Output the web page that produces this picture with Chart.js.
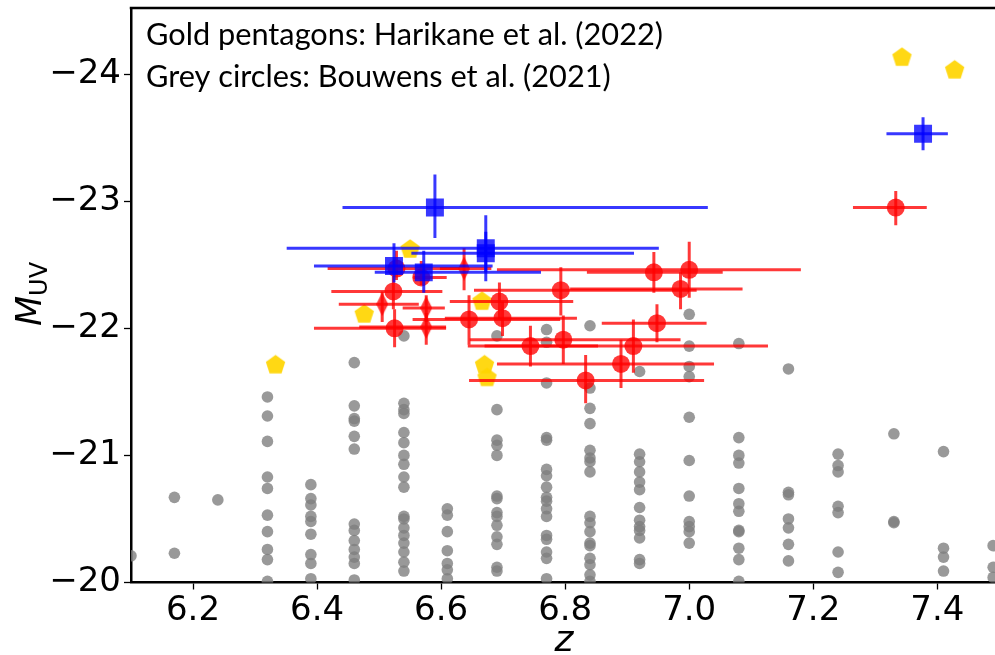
<!DOCTYPE html>
<html>
<head>
<meta charset="utf-8">
<script src="https://cdn.jsdelivr.net/npm/chart.js@4/dist/chart.umd.min.js"></script>
<style>
html,body{margin:0;padding:0;background:#fff;overflow:hidden;}
canvas{display:block;}
</style>
</head>
<body>
<canvas id="c" width="995" height="655"></canvas>
<script>
// ---------------- DATA ----------------
const xTickValues = [6.2, 6.4, 6.6, 6.8, 7.0, 7.2, 7.4];
const yTickValues = [-24, -23, -22, -21, -20];

// Grey circles: Bouwens et al. (2021) -- redshift columns and magnitudes in each column
const bouwensZ = [6.10, 6.17, 6.24, 6.32, 6.39, 6.46, 6.54, 6.61, 6.69, 6.77, 6.84, 6.92, 7.00, 7.08, 7.16, 7.24, 7.33, 7.41, 7.49];
const bouwensM = [
  [-20.21],
  [-20.67, -20.23],
  [-20.65],
  [-21.46, -21.31, -21.11, -20.83, -20.74, -20.53, -20.40, -20.26, -20.18, -20.01],
  [-20.77, -20.66, -20.61, -20.52, -20.48, -20.38, -20.22, -20.15, -20.03],
  [-21.73, -21.39, -21.29, -21.27, -21.15, -21.05, -20.46, -20.41, -20.33, -20.26, -20.20, -20.15, -20.02],
  [-21.94, -21.41, -21.36, -21.33, -21.18, -21.10, -21.00, -20.93, -20.83, -20.75, -20.52, -20.50, -20.43, -20.37, -20.31, -20.24, -20.16, -20.09],
  [-20.58, -20.53, -20.40, -20.25, -20.15, -20.10, -20.03],
  [-21.94, -21.36, -21.12, -21.08, -21.00, -20.68, -20.66, -20.55, -20.52, -20.45, -20.36, -20.30, -20.12, -20.09],
  [-21.99, -21.89, -21.57, -21.14, -21.12, -20.89, -20.84, -20.75, -20.67, -20.64, -20.58, -20.52, -20.37, -20.34, -20.24, -20.19, -20.03],
  [-22.02, -21.53, -21.37, -21.25, -21.04, -20.98, -20.95, -20.87, -20.52, -20.47, -20.40, -20.31, -20.29, -20.19, -20.14, -20.06, -20.01],
  [-21.66, -21.01, -20.95, -20.87, -20.79, -20.73, -20.59, -20.49, -20.44, -20.41, -20.35, -20.18, -20.15],
  [-22.11, -21.86, -21.70, -21.62, -21.30, -20.96, -20.68, -20.48, -20.44, -20.40, -20.31],
  [-21.88, -21.14, -21.00, -20.94, -20.74, -20.62, -20.56, -20.41, -20.40, -20.27, -20.18, -20.01],
  [-21.68, -20.71, -20.69, -20.50, -20.43, -20.30, -20.17],
  [-21.01, -20.92, -20.87, -20.60, -20.55, -20.24, -20.08],
  [-21.17, -20.48, -20.47],
  [-21.03, -20.27, -20.20, -20.09],
  [-20.29, -20.12, -20.04]
];

// Gold pentagons: Harikane et al. (2022)
const harikaneZ = [6.333, 6.476, 6.550, 6.666, 6.670, 6.674, 7.343, 7.428];
const harikaneM = [-21.71, -22.11, -22.62, -22.21, -21.71, -21.61, -24.13, -24.03];

// Red circles with error bars
const redZ    = [6.523, 6.525, 6.645, 6.694, 6.699, 6.744, 6.793, 6.797, 6.833, 6.890, 6.910, 6.943, 6.948, 6.986, 7.000, 7.333, 6.528, 6.568];
const redM    = [-22.29, -22.00, -22.07, -22.21, -22.08, -21.86, -22.30, -21.91, -21.59, -21.72, -21.86, -22.44, -22.04, -22.31, -22.46, -22.95, -22.47, -22.40];
const redZlo  = [6.423, 6.395, 6.554, 6.614, 6.606, 6.670, 6.653, 6.646, 6.645, 6.690, 6.643, 6.835, 6.859, 6.808, 6.690, 7.264, 6.417, 6.555];
const redZhi  = [6.602, 6.608, 6.792, 6.813, 6.819, 6.853, 7.012, 6.986, 7.024, 7.040, 7.127, 7.054, 7.028, 7.086, 7.180, 7.383, 6.630, 6.609];
const redMlo  = [-22.41, -22.15, -22.26, -22.36, -22.21, -22.02, -22.48, -22.10, -21.79, -21.91, -22.07, -22.60, -22.19, -22.44, -22.68, -23.08, -22.61, -22.53];
const redMhi  = [-22.15, -21.85, -21.87, -22.07, -21.94, -21.70, -22.10, -21.72, -21.41, -21.53, -21.65, -22.28, -21.89, -22.15, -22.24, -22.81, -22.38, -22.34];

// Red thin diamonds with error bars
const diaZ   = [6.505, 6.576, 6.576, 6.637];
const diaM   = [-22.19, -22.16, -22.01, -22.47];
const diaZlo = [6.435, 6.538, 6.468, 6.598];
const diaZhi = [6.564, 6.606, 6.608, 6.681];
const diaMlo = [-22.29, -22.26, -22.12, -22.63];
const diaMhi = [-22.05, -22.05, -21.87, -22.30];

// Blue squares with error bars
const blueZ   = [6.590, 6.672, 6.672, 6.524, 6.572, 7.377];
const blueM   = [-22.95, -22.63, -22.59, -22.49, -22.44, -23.53];
const blueZlo = [6.441, 6.351, 6.552, 6.395, 6.493, 7.318];
const blueZhi = [7.030, 6.951, 6.911, 6.683, 6.761, 7.417];
const blueMlo = [-23.21, -22.89, -22.76, -22.67, -22.61, -23.66];
const blueMhi = [-22.71, -22.37, -22.44, -22.36, -22.28, -23.40];

const legendLines = ['Gold pentagons: Harikane et al. (2022)', 'Grey circles: Bouwens et al. (2021)'];

// ---------------- BUILD ----------------
function pts(zs, ms) { return zs.map((z, i) => ({x: z, y: ms[i]})); }
function errs(zlo, zhi, mlo, mhi) { return zlo.map((v, i) => ({xlo: v, xhi: zhi[i], ylo: mlo[i], yhi: mhi[i]})); }

const greyPts = [];
bouwensZ.forEach((z, i) => bouwensM[i].forEach(m => greyPts.push({x: z, y: m})));

function makePentagon(r, color) {
  const s = Math.ceil(2 * r + 2);
  const c = document.createElement('canvas');
  c.width = s; c.height = s;
  const g = c.getContext('2d');
  g.fillStyle = color;
  g.beginPath();
  for (let i = 0; i < 5; i++) {
    const a = -Math.PI / 2 + i * 2 * Math.PI / 5;
    const px = s / 2 + r * Math.cos(a), py = s / 2 + r * Math.sin(a);
    if (i) g.lineTo(px, py); else g.moveTo(px, py);
  }
  g.closePath(); g.fill();
  return c;
}
function makeThinDiamond(w, h, color) {
  const c = document.createElement('canvas');
  c.width = w; c.height = h;
  const g = c.getContext('2d');
  g.fillStyle = color;
  g.beginPath();
  g.moveTo(w / 2, 0); g.lineTo(w, h / 2); g.lineTo(w / 2, h); g.lineTo(0, h / 2);
  g.closePath(); g.fill();
  return c;
}

const RED = 'rgba(255,0,0,0.78)';
const BLUE = 'rgba(0,0,255,0.78)';
const GREY = 'rgba(128,128,128,0.8)';
const GOLD = 'rgba(255,213,0,0.92)';
const TICK_FONT = 34;

const errorBarPlugin = {
  id: 'errbars',
  beforeDatasetDraw(chart, args) {
    const ds = chart.data.datasets[args.index];
    if (!ds.errors) return;
    const {ctx, chartArea} = chart;
    const xs = chart.scales.x, ys = chart.scales.y;
    ctx.save();
    ctx.beginPath();
    ctx.rect(chartArea.left, chartArea.top, chartArea.right - chartArea.left, chartArea.bottom - chartArea.top);
    ctx.clip();
    ctx.strokeStyle = ds.errorColor;
    ctx.lineWidth = 3;
    ctx.lineCap = 'butt';
    ds.data.forEach((p, i) => {
      const e = ds.errors[i];
      const px = xs.getPixelForValue(p.x), py = ys.getPixelForValue(p.y);
      ctx.beginPath();
      ctx.moveTo(xs.getPixelForValue(e.xlo), py);
      ctx.lineTo(xs.getPixelForValue(e.xhi), py);
      ctx.stroke();
      ctx.beginPath();
      ctx.moveTo(px, ys.getPixelForValue(e.ylo));
      ctx.lineTo(px, ys.getPixelForValue(e.yhi));
      ctx.stroke();
    });
    ctx.restore();
  }
};

const decorPlugin = {
  id: 'decor',
  afterDraw(chart) {
    const {ctx, chartArea} = chart;
    ctx.save();
    // top spine
    ctx.strokeStyle = '#000';
    ctx.lineWidth = 2.5;
    ctx.beginPath();
    ctx.moveTo(chartArea.left - 1.25, chartArea.top);
    ctx.lineTo(chartArea.right, chartArea.top);
    ctx.stroke();
    // legend text
    ctx.fillStyle = '#000';
    ctx.textBaseline = 'alphabetic';
    ctx.textAlign = 'left';
    ctx.font = '33px Lato';
    const w = ctx.measureText(legendLines[0]).width;
    const fs = 33 * 517 / w;
    ctx.font = fs.toFixed(2) + 'px Lato';
    ctx.fillText(legendLines[0], 146, 45);
    ctx.fillText(legendLines[1], 146, 87);
    // x label
    ctx.textAlign = 'center';
    ctx.font = 'italic 36px "DejaVu Sans"';
    ctx.fillText('z', 564, 651);
    // y label M_UV rotated
    ctx.translate(41, 0);
    ctx.rotate(-Math.PI / 2);
    ctx.textAlign = 'left';
    ctx.font = 'italic 35px "DejaVu Sans"';
    const mw = ctx.measureText('M').width;
    ctx.font = '24px "DejaVu Sans"';
    const uw = ctx.measureText('UV').width;
    const total = mw + uw;
    const start = -(294 + total / 2);
    ctx.font = 'italic 35px "DejaVu Sans"';
    ctx.fillText('M', start, 0);
    ctx.font = '24px "DejaVu Sans"';
    ctx.fillText('UV', start + mw, 6);
    ctx.restore();
  }
};

new Chart(document.getElementById('c'), {
  type: 'scatter',
  data: {
    datasets: [
      {
        label: 'Blue', data: pts(blueZ, blueM), errors: errs(blueZlo, blueZhi, blueMlo, blueMhi), errorColor: BLUE,
        pointStyle: 'rect', pointRadius: 12.7, pointBackgroundColor: BLUE, pointBorderWidth: 0, order: 0
      },
      {
        label: 'Red', data: pts(redZ, redM), errors: errs(redZlo, redZhi, redMlo, redMhi), errorColor: RED,
        pointStyle: 'circle', pointRadius: 9, pointBackgroundColor: RED, pointBorderWidth: 0, order: 1
      },
      {
        label: 'Diamonds', data: pts(diaZ, diaM), errors: errs(diaZlo, diaZhi, diaMlo, diaMhi), errorColor: RED,
        pointStyle: makeThinDiamond(12, 24, RED), pointRadius: 8, order: 2
      },
      {
        label: 'Harikane', data: pts(harikaneZ, harikaneM),
        pointStyle: makePentagon(10.2, GOLD), pointRadius: 10, order: 3
      },
      {
        label: 'Bouwens', data: greyPts,
        pointStyle: 'circle', pointRadius: 5.8, pointBackgroundColor: GREY, pointBorderWidth: 0, order: 4
      }
    ]
  },
  options: {
    responsive: false,
    animation: false,
    events: [],
    layout: {autoPadding: false, padding: {top: 8, right: 0, bottom: 0, left: 0}},
    plugins: {legend: {display: false}, tooltip: {enabled: false}, title: {display: false}},
    scales: {
      x: {
        type: 'linear', min: 6.1, max: 7.493,
        afterBuildTicks: s => { s.ticks = xTickValues.map(v => ({value: v})); },
        afterFit: s => { s.height = 72.5; s.paddingLeft = 0; s.paddingRight = 0; s.paddingTop = 0; s.paddingBottom = 0; },
        ticks: {
          autoSkip: false, maxRotation: 0, color: '#000', padding: 1,
          font: {family: 'DejaVu Sans', size: TICK_FONT},
          callback: v => Number(v).toFixed(1)
        },
        grid: {display: true, drawOnChartArea: false, drawTicks: true, tickLength: 7, tickWidth: 1.3, tickColor: '#000'},
        border: {display: true, color: '#000', width: 2.5}
      },
      y: {
        type: 'linear', min: -24.52, max: -20, reverse: true,
        afterBuildTicks: s => { s.ticks = yTickValues.map(v => ({value: v})); },
        afterFit: s => { s.width = 131; s.paddingLeft = 0; s.paddingRight = 0; s.paddingTop = 0; s.paddingBottom = 0; },
        ticks: {
          autoSkip: false, color: '#000', padding: 3,
          font: {family: 'DejaVu Sans', size: TICK_FONT},
          callback: v => '\u2212' + Math.abs(v)
        },
        grid: {display: true, drawOnChartArea: false, drawTicks: true, tickLength: 7, tickWidth: 1.3, tickColor: '#000'},
        border: {display: true, color: '#000', width: 2.5}
      }
    }
  },
  plugins: [errorBarPlugin, decorPlugin]
});
</script>
</body>
</html>
